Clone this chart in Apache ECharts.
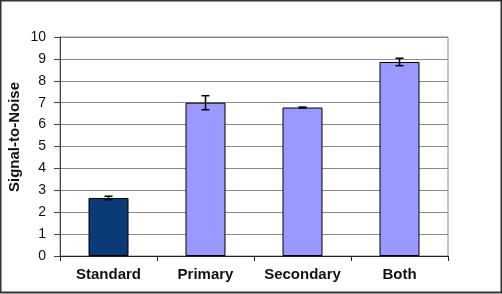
<!DOCTYPE html>
<html>
<head>
<meta charset="utf-8">
<script src="https://cdn.jsdelivr.net/npm/echarts@6/dist/echarts.min.js"></script>
<style>
html,body{margin:0;padding:0;background:#fff;}
#c{width:502px;height:294px;}
</style>
</head>
<body>
<div id="c"></div>
<script>
var categories = ['Standard', 'Primary', 'Secondary', 'Both'];
var values = [2.65, 7.0, 6.78, 8.86];
var errors = [0.08, 0.32, 0.02, 0.17];
var barColors = ['#0a3b76', '#9999ff', '#9999ff', '#9999ff'];
var yTicks = [0, 1, 2, 3, 4, 5, 6, 7, 8, 9, 10];

var chart = echarts.init(document.getElementById('c'));
var font = '"Liberation Sans", Arial, sans-serif';

chart.setOption({
  animation: false,
  backgroundColor: '#ffffff',
  grid: {
    left: 60, right: 54, top: 37, bottom: 38,
    show: true, borderColor: '#8a8a8a', borderWidth: 1
  },
  xAxis: {
    type: 'category',
    data: categories,
    axisLine: { lineStyle: { color: '#222', width: 1 } },
    axisTick: { show: true, alignWithLabel: false, interval: 0, length: 5, lineStyle: { color: '#222' } },
    axisLabel: { interval: 0, color: '#111', fontFamily: font, fontWeight: 'bold', fontSize: 15, margin: 11 }
  },
  yAxis: {
    type: 'value',
    min: yTicks[0], max: yTicks[yTicks.length - 1], interval: 1,
    axisLine: { show: true, lineStyle: { color: '#444', width: 1 } },
    axisTick: { show: true, length: 6, lineStyle: { color: '#444' } },
    axisLabel: { color: '#111', fontFamily: font, fontSize: 14, margin: 14 },
    splitLine: { lineStyle: { color: '#8a8a8a', width: 1 } }
  },
  graphic: [
    {
      type: 'text',
      x: 15, y: 137,
      rotation: Math.PI / 2,
      style: {
        text: 'Signal-to-Noise',
        fill: '#111',
        font: 'bold 15px ' + font,
        textAlign: 'center',
        textVerticalAlign: 'middle'
      }
    },
    {
      type: 'rect',
      shape: { x: 0.5, y: 0.5, width: 501, height: 292 },
      style: { fill: 'none', stroke: '#333', lineWidth: 2 },
      silent: true
    }
  ],
  series: [
    {
      type: 'bar',
      barWidth: 40,
      data: values.map(function (v, i) {
        return { value: v, itemStyle: { color: barColors[i] } };
      }),
      itemStyle: { borderColor: '#000', borderWidth: 1 },
      z: 2
    },
    {
      type: 'custom',
      z: 5,
      data: values.map(function (v, i) { return [i, v, errors[i]]; }),
      renderItem: function (params, api) {
        var x = api.value(0);
        var v = api.value(1);
        var e = api.value(2);
        var hi = api.coord([x, v + e]);
        var lo = api.coord([x, v - e]);
        var half = 4;
        var st = { stroke: '#000', lineWidth: 1.5 };
        return {
          type: 'group',
          children: [
            { type: 'line', shape: { x1: hi[0], y1: hi[1], x2: lo[0], y2: lo[1] }, style: st },
            { type: 'line', shape: { x1: hi[0] - half, y1: hi[1], x2: hi[0] + half, y2: hi[1] }, style: st },
            { type: 'line', shape: { x1: lo[0] - half, y1: lo[1], x2: lo[0] + half, y2: lo[1] }, style: st }
          ]
        };
      }
    }
  ]
});
</script>
</body>
</html>
